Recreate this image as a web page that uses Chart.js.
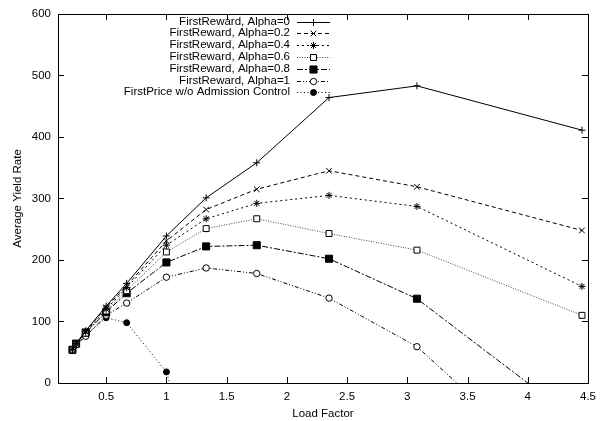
<!DOCTYPE html>
<html>
<head>
<meta charset="utf-8">
<script src="https://cdn.jsdelivr.net/npm/chart.js@4/dist/chart.umd.min.js"></script>
<style>
  html, body { margin: 0; padding: 0; background: #fff; }
  #wrap { width: 603px; height: 421px; }
</style>
</head>
<body>
<div id="wrap"><canvas id="yieldChart"></canvas></div>
<script>
// values
const loadFactor = [0.22, 0.25, 0.33, 0.5, 0.67, 1, 1.33, 1.75, 2.35, 3.08, 4.45];
const alpha0  = [55, 64, 85, 125, 162, 239, 301, 358, 464, 483, 411];
const alpha02 = [55, 64, 84, 123, 158, 231, 282, 315, 345, 319, 248];
const alpha04 = [54, 63, 83, 120, 155, 224, 267, 292, 305, 287, 157];
const alpha06 = [54, 63, 81, 117, 150, 213, 251, 267, 243, 216, 110];
const alpha08 = [54, 64, 82, 115, 146, 196, 222, 224, 202, 137, -67];
const alpha1  = [53, 62, 76, 110, 130, 172, 187, 178, 138, 59, -185];
const firstPrice = [53, 62, 78, 106, 98, 18, -200];
const xTicks = [0.5, 1, 1.5, 2, 2.5, 3, 3.5, 4, 4.5];
const yTicks = [0, 100, 200, 300, 400, 500, 600];

const FONT = "'Liberation Sans', Arial, Helvetica, sans-serif";

function pts(ys) {
  return ys.map((y, i) => ({ x: loadFactor[i], y }));
}

function serie(label, ys, opts) {
  return Object.assign({
    label,
    data: pts(ys),
    borderColor: "#000",
    backgroundColor: "#000",
    pointBorderColor: "#000",
    borderWidth: 1,
    pointBorderWidth: 1,
    pointRadius: 3.5,
    tension: 0,
    fill: false
  }, opts);
}

const datasets = [
  serie("FirstReward, Alpha=0", alpha0, { pointStyle: "cross", pointRadius: 3.5 }),
  serie("FirstReward, Alpha=0.2", alpha02, { pointStyle: "crossRot", borderDash: [4, 3], pointRadius: 4 }),
  serie("FirstReward, Alpha=0.4", alpha04, { pointStyle: "star", borderDash: [2, 3], pointRadius: 3.5 }),
  serie("FirstReward, Alpha=0.6", alpha06, { pointStyle: "rect", borderDash: [1, 1.5], borderColor: "#444", pointBackgroundColor: "#fff", pointRadius: 4.2 }),
  serie("FirstReward, Alpha=0.8", alpha08, { pointStyle: "rect", borderDash: [6, 2, 2, 2], pointBackgroundColor: "#000", pointRadius: 5 }),
  serie("FirstReward, Alpha=1", alpha1, { pointStyle: "circle", borderDash: [4, 2, 1, 2, 1, 2], pointBackgroundColor: "#fff", pointRadius: 3.2 }),
  serie("FirstPrice w/o Admission Control", firstPrice, { pointStyle: "circle", borderDash: [1, 2.5], pointBackgroundColor: "#000", pointRadius: 3 })
];

// gnuplot style frame, inward ticks and key
const framePlugin = {
  id: "frame",
  afterDraw(chart) {
    const ctx = chart.ctx;
    const a = chart.chartArea;
    const xs = chart.scales.x, ys = chart.scales.y;
    ctx.save();
    ctx.strokeStyle = "#000";
    ctx.lineWidth = 1;
    ctx.setLineDash([]);
    ctx.strokeRect(Math.round(a.left) + 0.5, Math.round(a.top) + 0.5,
      Math.round(a.right - a.left), Math.round(a.bottom - a.top));
    ctx.beginPath();
    xTicks.forEach(v => {
      const px = Math.round(xs.getPixelForValue(v)) + 0.5;
      ctx.moveTo(px, a.bottom); ctx.lineTo(px, a.bottom - 6);
      ctx.moveTo(px, a.top); ctx.lineTo(px, a.top + 6);
    });
    yTicks.forEach(v => {
      const py = Math.round(ys.getPixelForValue(v)) + 0.5;
      ctx.moveTo(a.left, py); ctx.lineTo(a.left + 6, py);
      ctx.moveTo(a.right, py); ctx.lineTo(a.right - 6, py);
    });
    ctx.stroke();

    // key
    ctx.font = "11.5px " + FONT;
    ctx.textAlign = "right";
    ctx.textBaseline = "middle";
    ctx.fillStyle = "#000";
    chart.data.datasets.forEach((ds, i) => {
      const y = 21.5 + i * 11.8;
      ctx.setLineDash([]);
      ctx.fillText(ds.label, 290, y);
      ctx.strokeStyle = ds.borderColor;
      ctx.setLineDash(ds.borderDash || []);
      ctx.beginPath();
      ctx.moveTo(297, Math.round(y) + 0.5);
      ctx.lineTo(330, Math.round(y) + 0.5);
      ctx.stroke();
      ctx.setLineDash([]);
      ctx.strokeStyle = "#000";
      ctx.fillStyle = ds.pointBackgroundColor || "#000";
      Chart.helpers.drawPoint(ctx, {
        pointStyle: ds.pointStyle,
        radius: ds.pointRadius,
        borderWidth: 1,
        rotation: 0
      }, 313.5, Math.round(y) + 0.5);
      ctx.fillStyle = "#000";
    });
    ctx.restore();
  }
};

new Chart(document.getElementById("yieldChart"), {
  type: "line",
  data: { datasets },
  options: {
    responsive: true,
    maintainAspectRatio: false,
    animation: false,
    layout: { padding: { top: 11, right: 15, left: 0, bottom: 0 } },
    plugins: {
      legend: { display: false },
      tooltip: { enabled: false }
    },
    scales: {
      x: {
        type: "linear",
        min: 0.1,
        max: 4.5,
        afterBuildTicks: s => { s.ticks = xTicks.map(v => ({ value: v })); },
        afterFit: s => { s.height = 38; },
        grid: { display: false, drawTicks: false },
        border: { display: false },
        ticks: { color: "#000", font: { family: FONT, size: 11.5 }, padding: 7, maxRotation: 0, callback: v => String(v) },
        title: { display: true, text: "Load Factor", color: "#000", font: { family: FONT, size: 11.5 }, padding: { top: 0, bottom: 0 } }
      },
      y: {
        type: "linear",
        min: 0,
        max: 600,
        afterBuildTicks: s => { s.ticks = yTicks.map(v => ({ value: v })); },
        afterFit: s => { s.width = 58; },
        grid: { display: false, drawTicks: false },
        border: { display: false },
        ticks: { color: "#000", font: { family: FONT, size: 11.5 }, padding: 7, callback: v => String(v) },
        title: { display: true, text: "Average Yield Rate", color: "#000", font: { family: FONT, size: 11.5 }, padding: { top: 11, bottom: 0 } }
      }
    }
  },
  plugins: [framePlugin]
});
</script>
</body>
</html>
